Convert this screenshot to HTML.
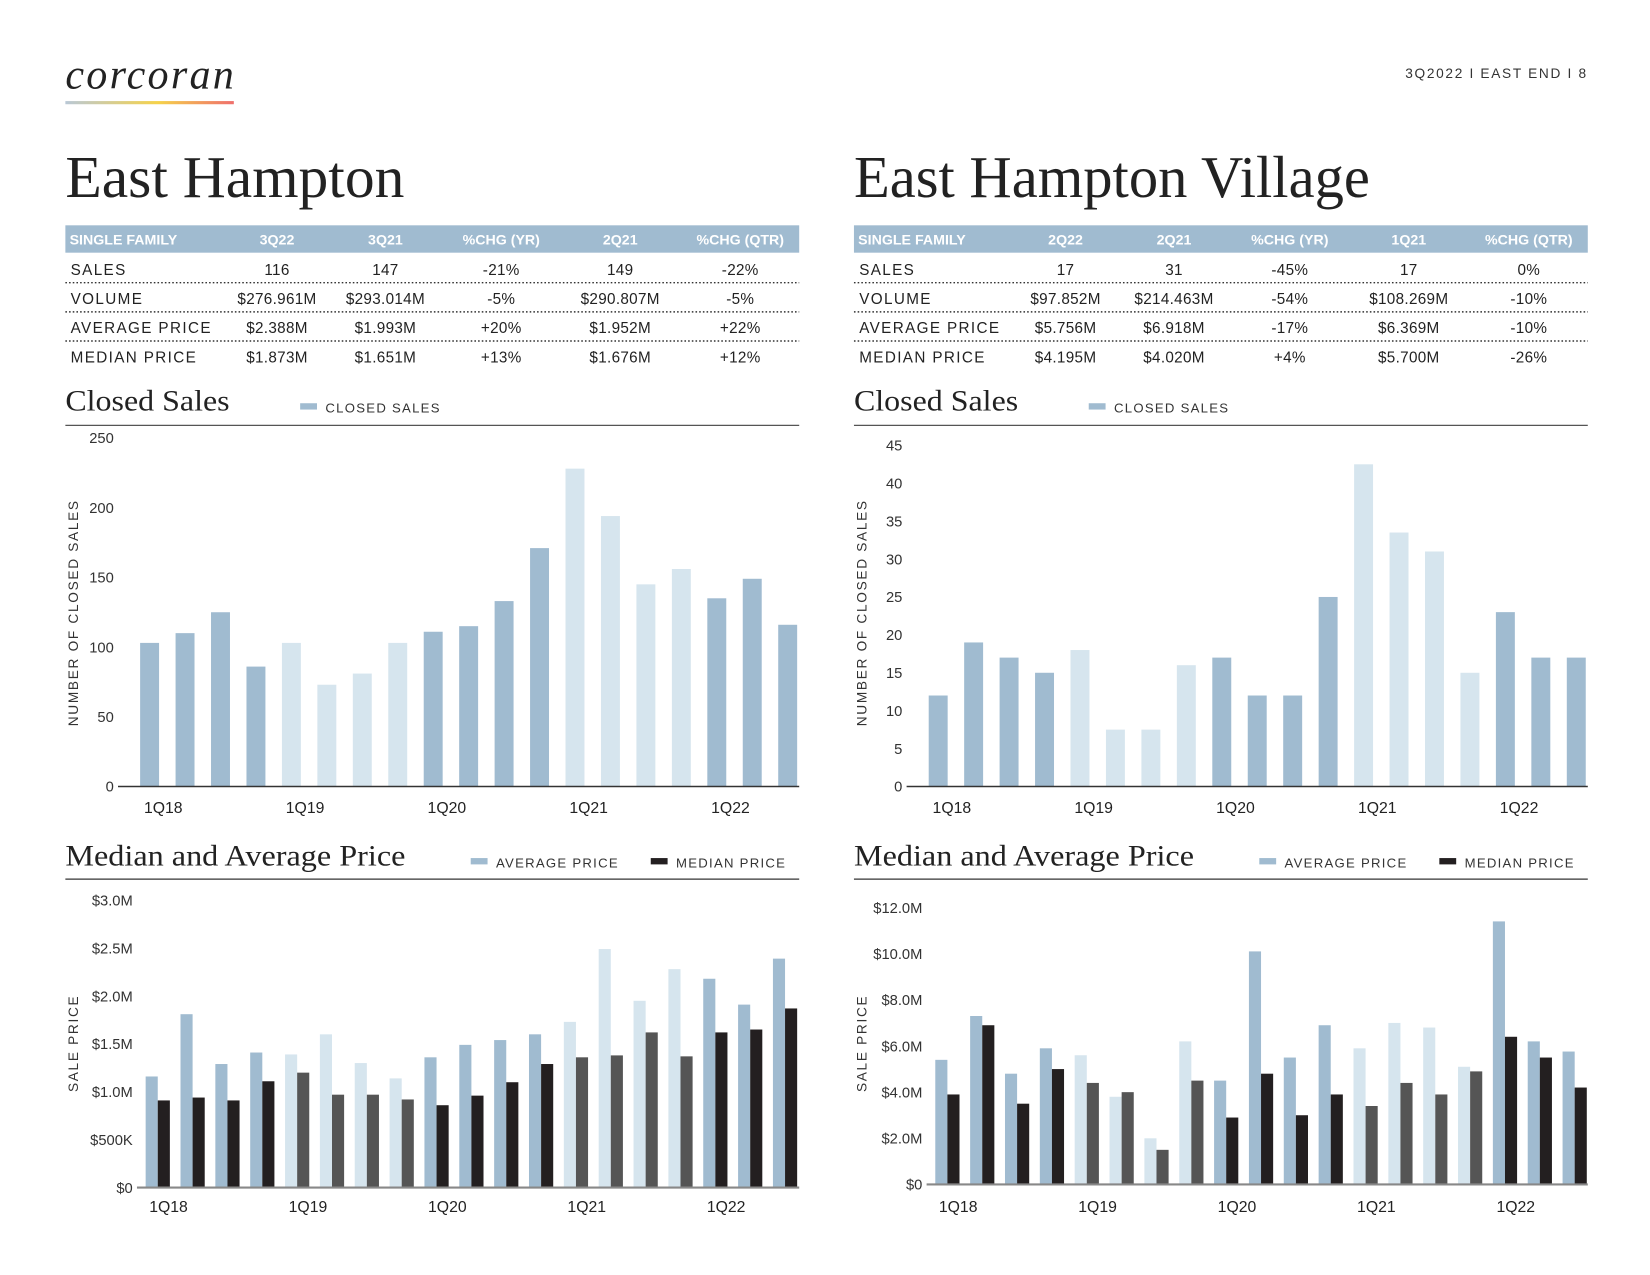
<!DOCTYPE html>
<html><head><meta charset="utf-8"><style>
html,body{margin:0;padding:0;background:#fff;}
svg{display:block;}
.sans{font-family:"Liberation Sans",sans-serif;}
.serif{font-family:"Liberation Serif",serif;}
</style></head><body>
<svg id="page" width="1650" height="1275" viewBox="0 0 1567 1211" xmlns="http://www.w3.org/2000/svg">
<defs><linearGradient id="lg" x1="0" x2="1"><stop offset="0" stop-color="#b9c8d6"/><stop offset="0.55" stop-color="#f5d24a"/><stop offset="1" stop-color="#ef6f6c"/></linearGradient></defs>
<text class="serif" x="62" y="84" font-size="40" font-style="italic" fill="#222" textLength="160">corcoran</text>
<rect x="62" y="96" width="160" height="3" fill="url(#lg)"/>
<text class="sans" x="1508" y="74" font-size="13" text-anchor="end" letter-spacing="1.6" fill="#333">3Q2022  I  EAST END  I  8</text>
<g id="g"></g>
</svg>
<script>
// ---- data ----
var quarters=["1Q18","2Q18","3Q18","4Q18","1Q19","2Q19","3Q19","4Q19","1Q20","2Q20","3Q20","4Q20","1Q21","2Q21","3Q21","4Q21","1Q22","2Q22","3Q22"];
var xTickLabels=["1Q18","1Q19","1Q20","1Q21","1Q22"];
var ehSales=[103,110,125,86,103,73,81,103,111,115,133,171,228,194,145,156,135,149,116];
var ehAvg=[1.16,1.81,1.29,1.41,1.39,1.60,1.30,1.14,1.36,1.49,1.54,1.60,1.73,2.49,1.95,2.28,2.18,1.91,2.39];
var ehMed=[0.91,0.94,0.91,1.11,1.20,0.97,0.97,0.92,0.86,0.96,1.10,1.29,1.36,1.38,1.62,1.37,1.62,1.65,1.87];
var evSales=[12,19,17,15,18,7.5,7.5,16,17,12,12,25,42.5,33.5,31,15,23,17,17];
var evAvg=[5.4,7.3,4.8,5.9,5.6,3.8,2.0,6.2,4.5,10.1,5.5,6.9,5.9,7.0,6.8,5.1,11.4,6.2,5.76];
var evMed=[3.9,6.9,3.5,5.0,4.4,4.0,1.5,4.5,2.9,4.8,3.0,3.9,3.4,4.4,3.9,4.9,6.4,5.5,4.2];
var ehSalesTicks=[0,50,100,150,200,250];
var evSalesTicks=[0,5,10,15,20,25,30,35,40,45];
var ehPriceTicks=[0,0.5,1,1.5,2,2.5,3];
var ehPriceTickLabels=["$0","$500K","$1.0M","$1.5M","$2.0M","$2.5M","$3.0M"];
var evPriceTicks=[0,2,4,6,8,10,12];
var evPriceTickLabels=["$0","$2.0M","$4.0M","$6.0M","$8.0M","$10.0M","$12.0M"];
var lightQuarters=[4,5,6,7,12,13,14,15];
var ehTableHead=["SINGLE FAMILY","3Q22","3Q21","%CHG (YR)","2Q21","%CHG (QTR)"];
var ehTableRows=[["SALES","116","147","-21%","149","-22%"],["VOLUME","$276.961M","$293.014M","-5%","$290.807M","-5%"],["AVERAGE PRICE","$2.388M","$1.993M","+20%","$1.952M","+22%"],["MEDIAN PRICE","$1.873M","$1.651M","+13%","$1.676M","+12%"]];
var evTableHead=["SINGLE FAMILY","2Q22","2Q21","%CHG (YR)","1Q21","%CHG (QTR)"];
var evTableRows=[["SALES","17","31","-45%","17","0%"],["VOLUME","$97.852M","$214.463M","-54%","$108.269M","-10%"],["AVERAGE PRICE","$5.756M","$6.918M","-17%","$6.369M","-10%"],["MEDIAN PRICE","$4.195M","$4.020M","+4%","$5.700M","-26%"]];

var NS="http://www.w3.org/2000/svg",G=document.getElementById('g');
function mk(t,a,txt){var e=document.createElementNS(NS,t);for(var k in a)e.setAttribute(k,a[k]);if(txt!==undefined)e.textContent=txt;G.appendChild(e);return e;}
var DB="#a0bbd0",LB="#d6e5ee",BK="#231f20",GR="#555555";
function isLight(i){return lightQuarters.indexOf(i)>=0;}

function panel(ox,title,head,rows,sales,sTicks,sTop,avg,med,pTicks,pLbl,pTop,side){
  var t=mk('text',{x:ox,y:187,'class':'serif','font-size':56,fill:'#222',textLength:(side==='l'?322:490),lengthAdjust:'spacingAndGlyphs'},title);
  
  var r=mk('rect',{x:ox,y:214,width:697,height:26,fill:'#a0bbd0'});
  
  var cx=[ox+4,ox+201,ox+304,ox+414,ox+527,ox+641];
  for(var c=0;c<6;c++){var h=mk('text',{x:cx[c],y:232,'class':'sans','font-size':13.5,'font-weight':'bold',fill:'#fff','text-anchor':c?'middle':'start'},head[c]);
    }
  for(var i=0;i<rows.length;i++){var y=261+i*27.7;
    for(c=0;c<6;c++){var tx=mk('text',{x:c?cx[c]:ox+5,y:y,'class':'sans','font-size':14.5,fill:'#222','letter-spacing':c?0.3:1.3,'text-anchor':c?'middle':'start'},rows[i][c]);
      }
    if(i<3){var l=mk('line',{x1:ox,x2:ox+697,y1:y+7.5,y2:y+7.5,stroke:'#333','stroke-width':1.4,'stroke-dasharray':'1.5 2'});
      }
  }
  var st=mk('text',{x:ox,y:390,'class':'serif','font-size':28,fill:'#222',textLength:156,lengthAdjust:'spacingAndGlyphs'},'Closed Sales');
  
  var lg=mk('rect',{x:ox+223,y:383,width:16,height:6,fill:DB});
  var lt=mk('text',{x:ox+247,y:392,'class':'sans','font-size':12.5,fill:'#333','letter-spacing':1.2},'CLOSED SALES');
  var rl=mk('line',{x1:ox,x2:ox+697,y1:404,y2:404,stroke:'#555','stroke-width':1.2});
  var y0=747,y1=sTop,mx=sTicks[sTicks.length-1];
  function ys(v){return y0-(y0-y1)*v/mx;}
  var axL=ox+50;
  var b0=ox+80,step=33.67,bw=18;
  for(i=0;i<sales.length;i++){var bx=b0+i*step,yy=ys(sales[i]);
    var b=mk('rect',{x:bx-bw/2,y:yy,width:bw,height:y0-yy,fill:isLight(i)?LB:DB});
    }
  var ax=mk('line',{x1:axL,x2:ox+697,y1:y0,y2:y0,stroke:'#333','stroke-width':1.4});
  for(i=0;i<sTicks.length;i++){var tk=mk('text',{x:axL-4,y:ys(sTicks[i])+5,'class':'sans','font-size':14,fill:'#333','text-anchor':'end'},String(sTicks[i]));
    }
  for(i=0;i<xTickLabels.length;i++){var xl=mk('text',{x:b0+quarters.indexOf(xTickLabels[i])*step+13,y:772,'class':'sans','font-size':15,fill:'#222','text-anchor':'middle'},xTickLabels[i]);
    }
  var yt=mk('text',{x:0,y:0,'class':'sans','font-size':13,fill:'#333','letter-spacing':1.6,'text-anchor':'middle',transform:'translate('+(ox+12)+',582) rotate(-90)'},'NUMBER OF CLOSED SALES');
  
  var pt=mk('text',{x:ox,y:822,'class':'serif','font-size':28,fill:'#222',textLength:323,lengthAdjust:'spacingAndGlyphs'},'Median and Average Price');
  
  var la=mk('rect',{x:ox+385,y:815,width:16,height:6,fill:DB});
  var lat=mk('text',{x:ox+409,y:824,'class':'sans','font-size':12.5,fill:'#333','letter-spacing':1.2},'AVERAGE PRICE');
  var lm=mk('rect',{x:ox+556,y:815,width:16,height:6,fill:BK});
  var lmt=mk('text',{x:ox+580,y:824,'class':'sans','font-size':12.5,fill:'#333','letter-spacing':1.2},'MEDIAN PRICE');
  var pr=mk('line',{x1:ox,x2:ox+697,y1:835,y2:835,stroke:'#333','stroke-width':1.2});
  var p0=(side==='l'?1128:1125),p1=pTop,pm=pTicks[pTicks.length-1];
  function yp(v){return p0-(p0-p1)*v/pm;}
  var pax=ox+(side==='l'?68:69),pb=ox+(side==='l'?82:83),pst=33.1,pw=11.5;
  for(i=0;i<avg.length;i++){var px=pb+i*pst,lt2=isLight(i);
    var ya=yp(avg[i]);var ba=mk('rect',{x:px-pw/2,y:ya,width:pw,height:p0-ya,fill:lt2?LB:DB});
    
    var ym=yp(med[i]);var bm=mk('rect',{x:px+pw/2,y:ym,width:pw,height:p0-ym,fill:lt2?GR:BK});
    }
  var pa=mk('line',{x1:pax,x2:ox+697,y1:p0,y2:p0,stroke:'#888','stroke-width':2});
  for(i=0;i<pTicks.length;i++){var ptk=mk('text',{x:pax-4,y:yp(pTicks[i])+5,'class':'sans','font-size':14,fill:'#333','text-anchor':'end'},pLbl[i]);
    }
  for(i=0;i<xTickLabels.length;i++){var pxl=mk('text',{x:pb+quarters.indexOf(xTickLabels[i])*pst+16,y:1151,'class':'sans','font-size':15,fill:'#222','text-anchor':'middle'},xTickLabels[i]);
    }
  var pyt=mk('text',{x:0,y:0,'class':'sans','font-size':13,fill:'#333','letter-spacing':1.6,'text-anchor':'middle',transform:'translate('+(ox+12)+',991) rotate(-90)'},'SALE PRICE');
  
}
panel(62,'East Hampton',ehTableHead,ehTableRows,ehSales,ehSalesTicks,416,ehAvg,ehMed,ehPriceTicks,ehPriceTickLabels,855,'l');
panel(811,'East Hampton Village',evTableHead,evTableRows,evSales,evSalesTicks,423,evAvg,evMed,evPriceTicks,evPriceTickLabels,862,'r');
</script>
</body></html>
